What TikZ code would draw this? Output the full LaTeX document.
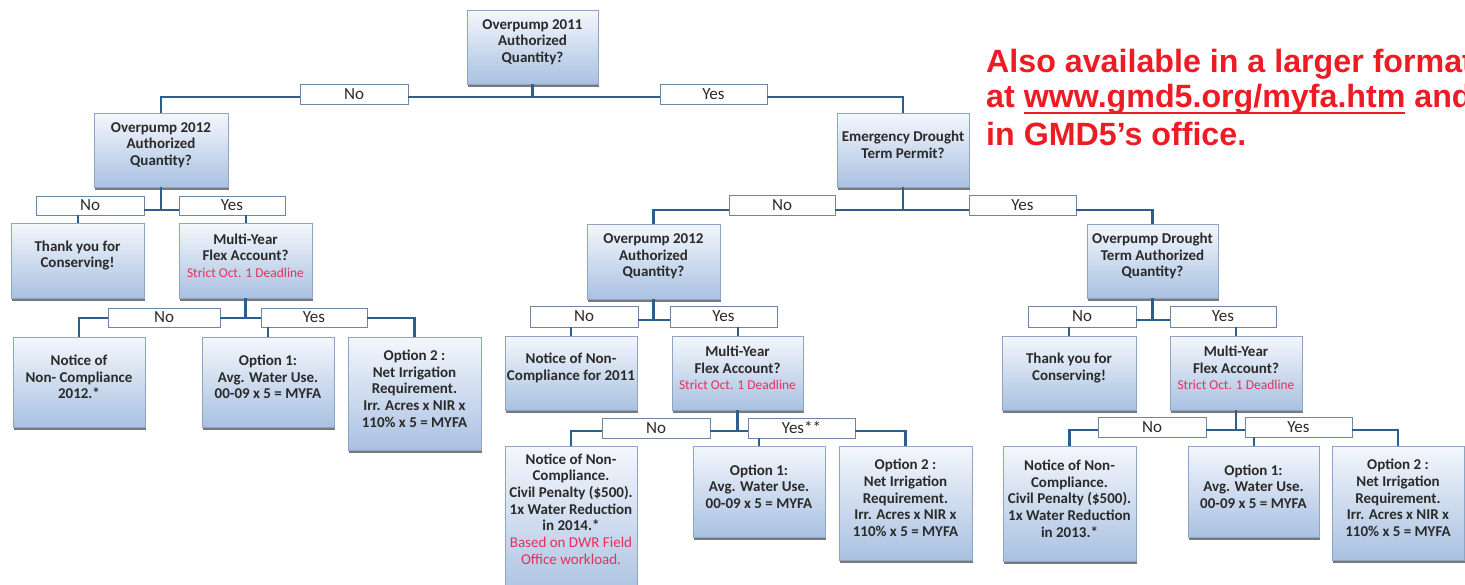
\documentclass[tikz,border=0pt]{standalone}
\usepackage{fontspec}
\setmainfont{Carlito}
\newfontfamily\redfont{Liberation Sans}
\usetikzlibrary{shadows}
\definecolor{boxtop}{HTML}{F4F7FC}
\definecolor{boxbot}{HTML}{A9C1E1}
\definecolor{boxline}{HTML}{8FA4C0}
\definecolor{conncol}{HTML}{2E5E8C}
\definecolor{lblline}{HTML}{6F86A0}
\definecolor{txtcol}{HTML}{2A2A2A}
\definecolor{deadred}{HTML}{E5305A}
\definecolor{bigred}{HTML}{ED1C24}
\tikzset{
 qbox/.style={draw=boxline, line width=0.8pt, top color=boxtop, bottom color=boxbot,
   drop shadow={shadow xshift=0.6pt, shadow yshift=-2.5pt, fill=black!75, opacity=0.7}, inner sep=0pt},
 qtext/.style={text=txtcol, font=\bfseries\fontsize{15}{16.7}\selectfont, align=center, inner sep=0pt},
 lbl/.style={draw=lblline, line width=0.9pt, fill=white, text=txtcol, font=\fontsize{17}{18}\selectfont, inner sep=0pt, minimum height=20pt},
 conn/.style={draw=conncol, line width=2.6pt},
 stem/.style={draw=conncol, line width=2pt},
 bigtxt/.style={text=bigred, font=\redfont\bfseries\fontsize{32.2}{36.5}\selectfont, inner sep=0pt, anchor=base west}
}
\newcommand\dl{{\color{deadred}\mdseries\fontsize{13.5}{14}\selectfont Strict Oct. 1 Deadline}}
\newcommand\rd[1]{{\color{deadred}\mdseries #1}}
\newsavebox\ulbox
\newcommand\myul[1]{\leavevmode\sbox\ulbox{#1}\rlap{\rule[-7pt]{\wd\ulbox}{2.5pt}}\usebox\ulbox}
% #1 text shift (down), #2 name, #3 x1, #4 y1, #5 x2, #6 y2, #7 text
\newcommand\qbx[7][0]{%
 \node[qbox, minimum width={#5-#3}, minimum height={#6-#4}] (#2) at ({(#3+#5)/2},{(#4+#6)/2}) {};
 \node[qtext] (#2t) at ([yshift={5-(#1)}]#2.center) {#7};
}
\begin{document}
\begin{tikzpicture}[x=1pt,y=-1pt]
\useasboundingbox (0,0) rectangle (1465,584);
\clip (0,0) rectangle (1465,584);
% ---------- boxes ----------
\qbx{T}{467}{10}{598}{84}{Overpump 2011\\Authorized\\Quantity?}
\qbx{L1}{94}{113}{228}{187}{Overpump 2012\\Authorized\\Quantity?}
\qbx{E}{837}{113}{969}{187}{Emergency Drought\\Term Permit?}
% left subtree
\qbx{TY1}{11}{223}{144}{298}{Thank you for\\Conserving!}
\qbx{M1}{179}{223}{312}{298}{Multi-Year\\Flex Account?\\\dl}
\qbx{N1}{13}{337}{145}{427}{Notice of\\Non- Compliance\\2012.*}
\qbx{O11}{202}{337}{334}{427}{Option 1:\\Avg. Water Use.\\00-09 x 5 = MYFA}
\qbx{O21}{348}{337}{481}{450}{Option 2 :\\Net Irrigation\\Requirement.\\Irr. Acres x NIR x\\110\% x 5 = MYFA}
% middle subtree
\qbx{L2}{587}{224}{720}{299}{Overpump 2012\\Authorized\\Quantity?}
\qbx{N2}{505}{336}{637}{410}{Notice of Non-\\Compliance for 2011}
\qbx{M2}{672}{336}{803}{410}{Multi-Year\\Flex Account?\\\dl}
\qbx[-9]{N3}{505}{446}{637}{600}{Notice of Non-\\Compliance.\\Civil Penalty (\$500).\\1x Water Reduction\\in 2014.*\\\rd{Based on DWR Field}\\\rd{Office workload.}}
\qbx{O12}{693}{446}{825}{537}{Option 1:\\Avg. Water Use.\\00-09 x 5 = MYFA}
\qbx{O22}{839}{446}{972}{560}{Option 2 :\\Net Irrigation\\Requirement.\\Irr. Acres x NIR x\\110\% x 5 = MYFA}
% right subtree
\qbx{R2}{1087}{224}{1218}{298}{Overpump Drought\\Term Authorized\\Quantity?}
\qbx{TY2}{1002}{336}{1136}{410}{Thank you for\\Conserving!}
\qbx{M3}{1170}{336}{1302}{410}{Multi-Year\\Flex Account?\\\dl}
\qbx{N4}{1003}{446}{1136}{561}{Notice of Non-\\Compliance.\\Civil Penalty (\$500).\\1x Water Reduction\\in 2013.*}
\qbx{O13}{1188}{446}{1319}{537}{Option 1:\\Avg. Water Use.\\00-09 x 5 = MYFA}
\qbx{O23}{1332}{446}{1464}{560}{Option 2 :\\Net Irrigation\\Requirement.\\Irr. Acres x NIR x\\110\% x 5 = MYFA}
% ---------- labels ----------
\node[lbl, minimum width=108] (tNo) at (354,94) {No};
\node[lbl, minimum width=107] (tYes) at (713.5,94) {Yes};
\node[lbl, minimum width=108, minimum height=19] (l1No) at (90,205.5) {No};
\node[lbl, minimum width=106, minimum height=19] (l1Yes) at (232,205.5) {Yes};
\node[lbl, minimum width=112, minimum height=19] (m1No) at (164,317.5) {No};
\node[lbl, minimum width=106, minimum height=19] (m1Yes) at (314,317.5) {Yes};
\node[lbl, minimum width=106] (eNo) at (782,205) {No};
\node[lbl, minimum width=107] (eYes) at (1022.5,205) {Yes};
\node[lbl, minimum width=108, minimum height=21] (l2No) at (584,316.5) {No};
\node[lbl, minimum width=107, minimum height=21] (l2Yes) at (723.5,316.5) {Yes};
\node[lbl, minimum width=108] (m2No) at (656,428) {No};
\node[lbl, minimum width=107] (m2Yes) at (801.5,428) {Yes**};
\node[lbl, minimum width=108, minimum height=21] (r2No) at (1082,316.5) {No};
\node[lbl, minimum width=106, minimum height=21] (r2Yes) at (1223,316.5) {Yes};
\node[lbl, minimum width=108] (m3No) at (1152,427) {No};
\node[lbl, minimum width=107] (m3Yes) at (1298.5,427) {Yes};
% ---------- junctions ----------
\coordinate (j0) at (532.5,97);
\coordinate (j1) at (161,210);
\coordinate (j2) at (245.5,318);
\coordinate (j3) at (903,210);
\coordinate (j4) at (653.5,320);
\coordinate (j5) at (737.5,431);
\coordinate (j6) at (1152.5,320);
\coordinate (j7) at (1236,430);
% ---------- connectors ----------
% top
\draw[conn] (T.south) -- (j0);
\draw[conn] (tNo.west |- j0) -| (L1.north);
\draw[conn] (tNo.east |- j0) -- (tYes.west |- j0);
\draw[conn] (tYes.east |- j0) -| (E.north);
% L1
\draw[conn] (L1.south) -- (j1);
\draw[conn] (l1No.east |- j1) -- (l1Yes.west |- j1);
\draw[stem] (l1No.south -| TY1.north) -- (TY1.north);
\draw[stem] (l1Yes.south -| M1.north) -- (M1.north);
% M1
\draw[conn] (M1.south) -- (j2);
\draw[conn] (m1No.west |- j2) -| (N1.north);
\draw[conn] (m1No.east |- j2) -- (m1Yes.west |- j2);
\draw[conn] (m1Yes.east |- j2) -| (O21.north);
\draw[stem] (m1Yes.south -| O11.north) -- (O11.north);
% E
\draw[conn] (E.south) -- (j3);
\draw[conn] (eNo.west |- j3) -| (L2.north);
\draw[conn] (eNo.east |- j3) -- (eYes.west |- j3);
\draw[conn] (eYes.east |- j3) -| (R2.north);
% L2
\draw[conn] (L2.south) -- (j4);
\draw[conn] (l2No.east |- j4) -- (l2Yes.west |- j4);
\draw[stem] (l2No.south -| N2.north) -- (N2.north);
\draw[stem] (l2Yes.south -| M2.north) -- (M2.north);
% M2
\draw[conn] (M2.south) -- (j5);
\draw[conn] (m2No.west |- j5) -| (N3.north);
\draw[conn] (m2No.east |- j5) -- (m2Yes.west |- j5);
\draw[conn] (m2Yes.east |- j5) -| (O22.north);
\draw[stem] (m2Yes.south -| O12.north) -- (O12.north);
% R2
\draw[conn] (R2.south) -- (j6);
\draw[conn] (r2No.east |- j6) -- (r2Yes.west |- j6);
\draw[stem] (r2No.south -| TY2.north) -- (TY2.north);
\draw[stem] (r2Yes.south -| M3.north) -- (M3.north);
% M3
\draw[conn] (M3.south) -- (j7);
\draw[conn] (m3No.west |- j7) -| (N4.north);
\draw[conn] (m3No.east |- j7) -- (m3Yes.west |- j7);
\draw[conn] (m3Yes.east |- j7) -| (O23.north);
\draw[stem] (m3Yes.south -| O13.north) -- (O13.north);
% ---------- red note ----------
\node[bigtxt] (note1) at (986,72) {Also available in a larger format};
\node[bigtxt] (note2) at (986,107) {at \myul{www.gmd5.org/myfa.htm} and};
\node[bigtxt] (note3) at (986,145) {in GMD5’s office.};
\end{tikzpicture}
\end{document}
